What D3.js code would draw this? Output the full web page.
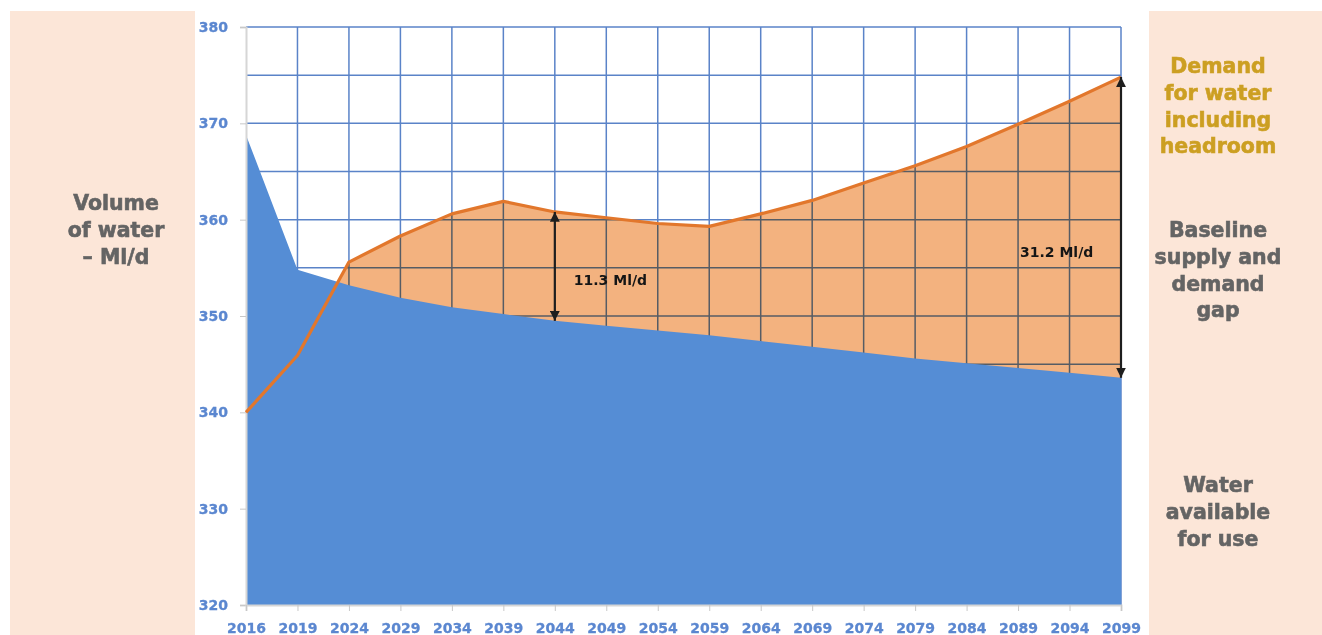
<!DOCTYPE html>
<html>
<head>
<meta charset="utf-8">
<script src="https://cdn.jsdelivr.net/npm/d3@7"></script>
<style>
  html, body { margin: 0; padding: 0; background: #ffffff; }
  svg { display: block; }
  text { font-family: "DejaVu Sans", "Liberation Sans", sans-serif; font-weight: bold; }
</style>
</head>
<body>
<svg id="chart" width="1322" height="635"></svg>
<script>
// Years on the horizontal axis
const years = ["2016", "2019", "2024", "2029", "2034", "2039", "2044", "2049", "2054",
               "2059", "2064", "2069", "2074", "2079", "2084", "2089", "2094", "2099"];

// Water available for use (Ml/d)
const supply = [368.8, 354.8, 353.2, 351.9, 350.9, 350.2, 349.5, 349.0, 348.5,
                348.0, 347.4, 346.8, 346.2, 345.6, 345.1, 344.6, 344.1, 343.6];

// Demand for water including headroom (Ml/d)
const demand = [340.0, 345.9, 355.6, 358.3, 360.6, 361.9, 360.8, 360.2, 359.6,
                359.3, 360.6, 362.0, 363.8, 365.6, 367.6, 369.9, 372.3, 374.8];

// Highlighted supply/demand gaps
const gapYears = ["2044", "2099"];
const gapValues = [11.3, 31.2];
const gapLabels = ["11.3 Ml/d", "31.2 Ml/d"];

// Value axis
const yTicks = [320, 330, 340, 350, 360, 370, 380];
const yGrid = [325, 330, 335, 340, 345, 350, 355, 360, 365, 370, 375, 380];

// Side captions
const axisTitle = ["Volume", "of water", "\u2013 Ml/d"];
const demandCaption = ["Demand", "for water", "including", "headroom"];
const gapCaption = ["Baseline", "supply and", "demand", "gap"];
const supplyCaption = ["Water", "available", "for use"];

const svg = d3.select("#chart");
const W = 1322, H = 635;
const plot = { left: 246, right: 1121, top: 27, bottom: 605 };

const x = d3.scalePoint().domain(years).range([plot.left, plot.right]);
const y = d3.scaleLinear().domain([320, 380]).range([plot.bottom, plot.top]);

const rows = years.map((yr, i) => ({ yr, s: supply[i], d: demand[i] }));

// Side panels
const peach = "#fce6d8";
svg.append("rect").attr("x", 10).attr("y", 11).attr("width", 185).attr("height", H - 11).attr("fill", peach);
svg.append("rect").attr("x", 1149).attr("y", 11).attr("width", W - 1149).attr("height", H - 11).attr("fill", peach);

// Demand area (filled down to the base; the supply area covers the lower part)
svg.append("path")
  .datum(rows)
  .attr("fill", "#f3b27f")
  .attr("d", d3.area().x(d => x(d.yr)).y0(y(320)).y1(d => y(d.d)));

// Gridlines
const grid = svg.append("g").style("mix-blend-mode", "multiply");
grid.selectAll("line.h").data(yGrid).join("line")
  .attr("x1", plot.left).attr("x2", plot.right)
  .attr("y1", d => y(d)).attr("y2", d => y(d))
  .attr("stroke", "#5a83c8").attr("stroke-width", 1.5);
grid.selectAll("line.v").data(years.slice(1)).join("line")
  .attr("x1", d => x(d)).attr("x2", d => x(d))
  .attr("y1", plot.top).attr("y2", plot.bottom)
  .attr("stroke", "#5a83c8").attr("stroke-width", 1.5);

// Supply area
svg.append("path")
  .datum(rows)
  .attr("fill", "#558dd5")
  .attr("d", d3.area().x(d => x(d.yr)).y0(y(320)).y1(d => y(d.s)));

// Axes
function styleTicks(g) {
  g.select(".domain").attr("stroke", "#d6d6d6").attr("stroke-width", 2);
  g.selectAll(".tick line").attr("stroke", "#c8c8c8");
  g.selectAll(".tick text")
    .attr("fill", "#5b87d0")
    .attr("stroke", "#5b87d0").attr("stroke-width", 0.3)
    .style("font-size", "14px").style("font-family", "DejaVu Sans").style("font-weight", "bold");
}
const yAxis = d3.axisLeft(y).tickValues(yTicks).tickSize(6).tickPadding(12);
svg.append("g").attr("transform", `translate(${plot.left},0)`).call(yAxis).call(styleTicks);

const xAxis = d3.axisBottom(x).tickSize(6).tickPadding(12);
svg.append("g").attr("transform", `translate(0,${plot.bottom})`).call(xAxis).call(styleTicks);

// Demand line
svg.append("path")
  .datum(rows)
  .attr("fill", "none")
  .attr("stroke", "#e2772c")
  .attr("stroke-width", 3.2)
  .attr("stroke-linejoin", "round")
  .attr("d", d3.line().x(d => x(d.yr)).y(d => y(d.d)));

// Gap arrows
const defs = svg.append("defs");
defs.append("marker")
  .attr("id", "head")
  .attr("viewBox", "0 0 10 10")
  .attr("refX", 10).attr("refY", 5)
  .attr("markerWidth", 4.5).attr("markerHeight", 4.5)
  .attr("markerUnits", "strokeWidth")
  .attr("orient", "auto-start-reverse")
  .append("path").attr("d", "M0,0 L10,5 L0,10 Z").attr("fill", "#1e1e1e");

gapYears.forEach((yr, i) => {
  const base = supply[years.indexOf(yr)];
  svg.append("line")
    .attr("x1", x(yr)).attr("x2", x(yr))
    .attr("y1", y(base)).attr("y2", y(base + gapValues[i]))
    .attr("stroke", "#1e1e1e").attr("stroke-width", 2.2)
    .attr("marker-start", "url(#head)").attr("marker-end", "url(#head)");
});

svg.append("text")
  .attr("x", x("2044") + 19).attr("y", 285)
  .attr("fill", "#151515").style("font-size", "14px")
  .text(gapLabels[0]);
svg.append("text")
  .attr("x", x("2099") - 101).attr("y", 257)
  .attr("fill", "#151515").style("font-size", "14px")
  .text(gapLabels[1]);

// Captions
function caption(lines, cx, firstBaseline, color) {
  svg.append("g").selectAll("text").data(lines).join("text")
    .attr("x", cx).attr("y", (d, i) => firstBaseline + i * 26.8)
    .attr("text-anchor", "middle")
    .attr("fill", color)
    .attr("stroke", color).attr("stroke-width", 0.6)
    .style("font-size", "20.5px")
    .text(d => d);
}
caption(axisTitle, 116, 210, "#646464");
caption(demandCaption, 1218, 73, "#cc9f22");
caption(gapCaption, 1218, 237, "#646464");
caption(supplyCaption, 1218, 492, "#646464");
</script>
</body>
</html>
